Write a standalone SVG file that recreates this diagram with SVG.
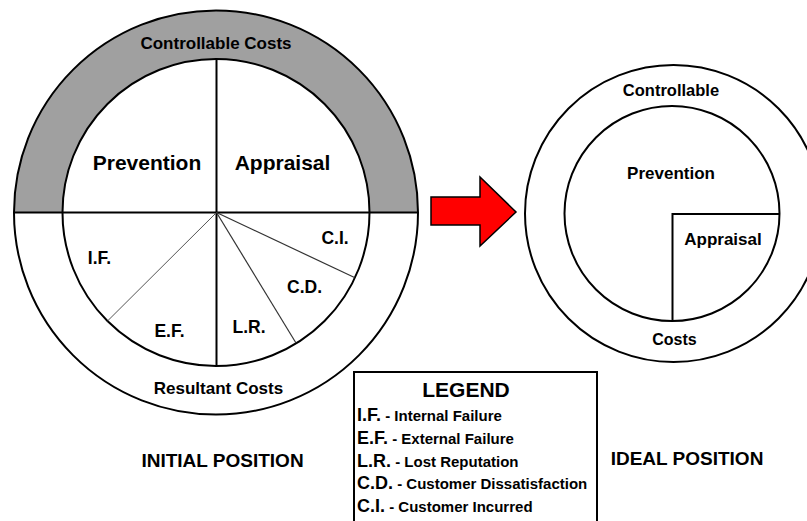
<svg xmlns="http://www.w3.org/2000/svg" width="807" height="521" viewBox="0 0 807 521">
  <style>
    text { font-family: "Liberation Sans", Arial, Helvetica, sans-serif; font-weight: bold; fill: #000; }
    .mid { text-anchor: middle; }
    .ring { fill: none; stroke: #000; stroke-width: 2; }
    .edge { stroke: #000; stroke-width: 2; fill: none; }
    .spoke { stroke: #333; stroke-width: 1.2; fill: none; }
    .spoke-light { stroke: #555; stroke-width: 1; fill: none; }
    .band { fill: #a0a0a0; stroke: none; }
    .lbl-big { font-size: 21px; }
    .lbl-med { font-size: 17px; }
    .lbl-sml { font-size: 17.5px; }
    .title { font-size: 19px; }
    .abbr { font-size: 18px; }
    .desc { font-size: 15px; }
  </style>
  <rect width="807" height="521" fill="#fff"/>

  <!-- Initial position: cost wheel -->
  <g id="initial-wheel">
    <path class="band" d="M 14 212.5 A 202 202 0 0 1 418 212.5 L 369.5 212.5 A 153.5 153.5 0 0 0 62.5 212.5 Z"/>
    <circle class="ring" cx="216" cy="212.5" r="202"/>
    <circle class="ring" cx="216" cy="212.5" r="153.5"/>
    <line class="edge" x1="14" y1="212.5" x2="418" y2="212.5"/>
    <line class="edge" x1="216.5" y1="59" x2="216.5" y2="366"/>
    <line class="spoke-light" x1="216.5" y1="212.5" x2="107.5" y2="321"/>
    <line class="spoke" x1="216.5" y1="212.5" x2="296" y2="343"/>
    <line class="spoke" x1="216.5" y1="212.5" x2="354.5" y2="277.5"/>
    <text class="mid lbl-med" x="216" y="49">Controllable Costs</text>
    <text class="mid lbl-big" x="147" y="170">Prevention</text>
    <text class="mid lbl-big" x="282.5" y="170">Appraisal</text>
    <text class="mid lbl-sml" x="335" y="244">C.I.</text>
    <text class="mid lbl-sml" x="99.5" y="264">I.F.</text>
    <text class="mid lbl-sml" x="304.5" y="293">C.D.</text>
    <text class="mid lbl-sml" x="169.5" y="337">E.F.</text>
    <text class="mid lbl-sml" x="249" y="333">L.R.</text>
    <text class="mid lbl-med" x="218.5" y="394">Resultant Costs</text>
  </g>

  <!-- Ideal position: cost wheel -->
  <g id="ideal-wheel">
    <circle class="ring" cx="673.5" cy="213.5" r="148.5"/>
    <circle class="ring" cx="672" cy="213.5" r="107.5"/>
    <polyline class="edge" points="779.5,214 672.5,214 672.5,321"/>
    <text class="mid" style="font-size:16.5px" x="671" y="96">Controllable</text>
    <text class="mid lbl-med" x="671" y="179">Prevention</text>
    <text class="mid lbl-med" x="723" y="245">Appraisal</text>
    <text class="mid" style="font-size:16px" x="674.5" y="345">Costs</text>
  </g>

  <!-- Captions -->
  <g id="caption-initial">
    <text class="mid title" x="222.5" y="467">INITIAL POSITION</text>
  </g>
  <g id="caption-ideal">
    <text class="mid title" x="687" y="465">IDEAL POSITION</text>
  </g>

  <!-- Legend -->
  <g id="legend">
    <rect x="354" y="372" width="243" height="160" fill="#fff" stroke="#000" stroke-width="2"/>
    <text class="mid" style="font-size:21px" x="466" y="397">LEGEND</text>
    <text x="357" y="421"><tspan class="abbr">I.F.</tspan><tspan class="desc"> - Internal Failure</tspan></text>
    <text x="357" y="444"><tspan class="abbr">E.F.</tspan><tspan class="desc"> - External Failure</tspan></text>
    <text x="357" y="467"><tspan class="abbr">L.R.</tspan><tspan class="desc"> - Lost Reputation</tspan></text>
    <text x="357" y="489"><tspan class="abbr">C.D.</tspan><tspan class="desc"> - Customer Dissatisfaction</tspan></text>
    <text x="357" y="512"><tspan class="abbr">C.I.</tspan><tspan class="desc"> - Customer Incurred</tspan></text>
  </g>

  <!-- Connectors -->
  <g id="connectors">
    <polygon points="431,197 480,197 480,177 516,212 480,246 480,225 431,225" fill="#ff0000" stroke="#000" stroke-width="1.5" stroke-linejoin="miter"/>
  </g>
</svg>
